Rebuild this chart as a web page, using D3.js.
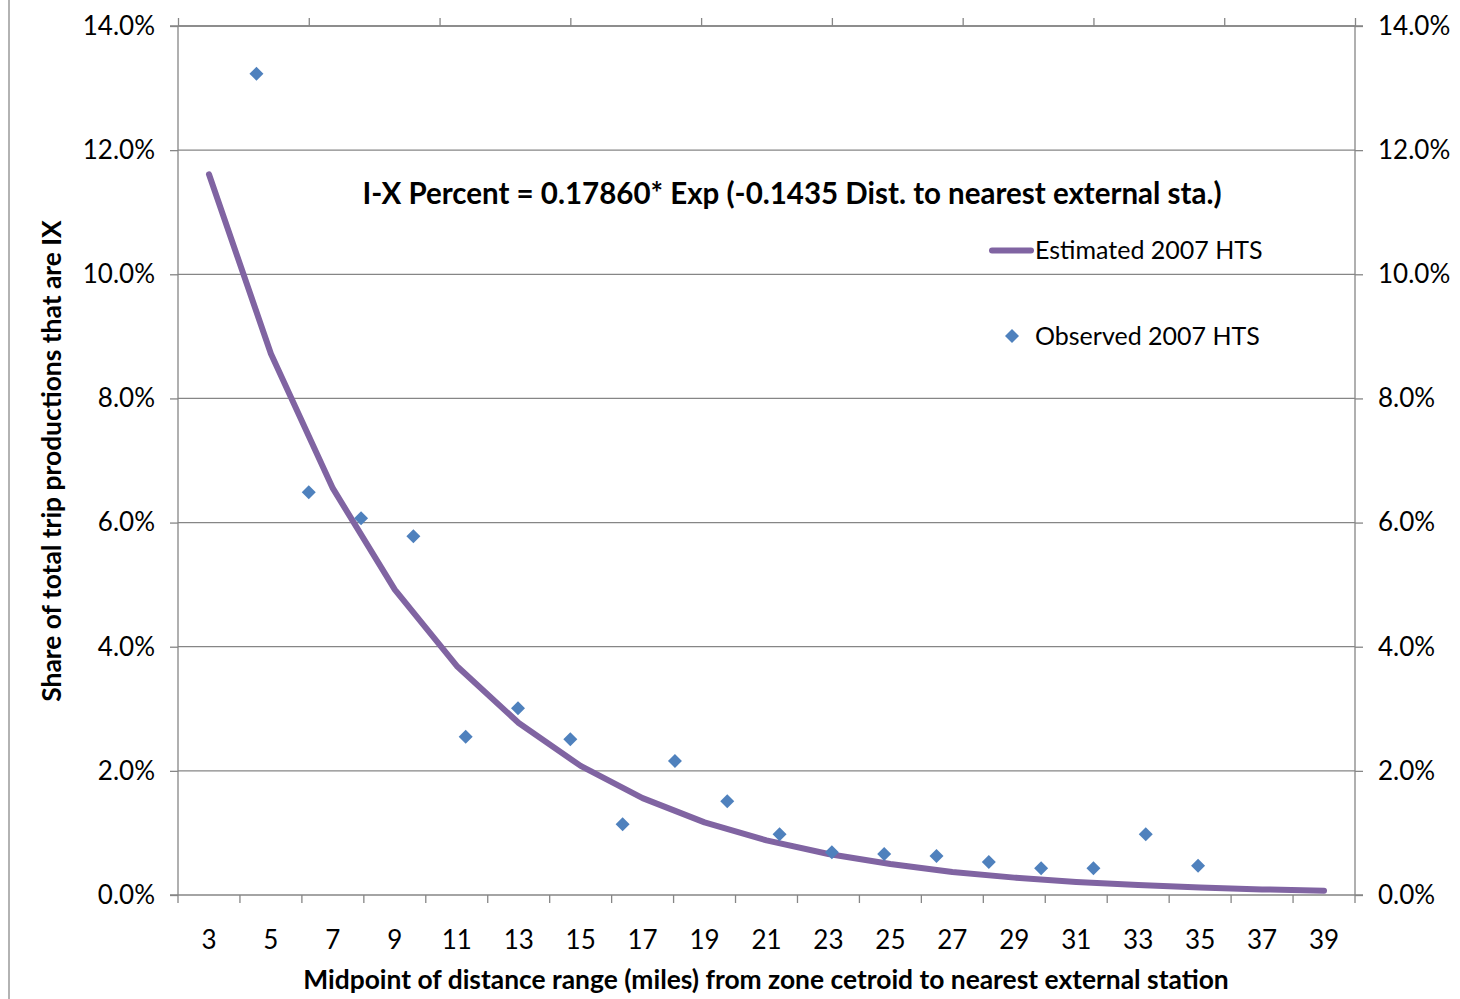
<!DOCTYPE html>
<html>
<head>
<meta charset="utf-8">
<script src="https://cdn.jsdelivr.net/npm/d3@7"></script>
<style>
  html, body { margin: 0; padding: 0; background: #fff; }
  svg { display: block; }
  text { font-family: Lato, "Open Sans", sans-serif; fill: #000; }
</style>
</head>
<body>
<script>
// ---- data ----
const categories = [3, 5, 7, 9, 11, 13, 15, 17, 19, 21, 23, 25, 27, 29, 31, 33, 35, 37, 39];
const estimatedPct = [11.61, 8.72, 6.55, 4.92, 3.69, 2.77, 2.08, 1.56, 1.17, 0.88, 0.66, 0.50, 0.37, 0.28, 0.21, 0.16, 0.12, 0.09, 0.07];
const observedX = [3, 5, 7, 9, 11, 13, 15, 17, 19, 21, 23, 25, 27, 29, 31, 33, 35, 37, 39];
const observedPct = [13.23, 6.49, 6.07, 5.78, 2.55, 3.01, 2.51, 1.14, 2.16, 1.51, 0.98, 0.69, 0.66, 0.63, 0.53, 0.43, 0.43, 0.98, 0.47];
const yTicks = [0, 2, 4, 6, 8, 10, 12, 14];
const secondaryXTicks = [0, 5, 10, 15, 20, 25, 30, 35, 40, 45];
const seriesNames = ["Estimated 2007 HTS", "Observed 2007 HTS"];
const equationText = "I-X Percent = 0.17860* Exp (-0.1435 Dist. to nearest external sta.)";
const xTitle = "Midpoint of distance range (miles) from zone cetroid to nearest external station";
const yTitle = "Share of total trip productions that are IX";

// ---- layout ----
const W = 1460, H = 999;
const L = 178, R = 1355, T = 26, B = 895;
const axisColor = "#868686";
const lineColor = "#8064A2";
const markColor = "#4F81BD";

const svg = d3.select("body").append("svg").attr("width", W).attr("height", H);

// frame line on left edge
svg.append("line").attr("x1", 9).attr("x2", 9).attr("y1", 0).attr("y2", H)
  .attr("stroke", "#9a9a9a").attr("stroke-width", 1.5);

const y = d3.scaleLinear().domain([0, 14]).range([B, T]);
const x = d3.scaleBand().domain(categories).range([L, R]).padding(0);
const x2 = d3.scaleLinear().domain([0, 45]).range([L, R]);
const xc = d => x(d) + x.bandwidth() / 2;

// gridlines
svg.append("g").selectAll("line").data(yTicks.filter(d => d > 0)).join("line")
  .attr("x1", L).attr("x2", R).attr("y1", d => y(d)).attr("y2", d => y(d))
  .attr("stroke", axisColor).attr("stroke-width", 1.3);

const fmt = d => d.toFixed(1) + "%";

// left axis
const gl = svg.append("g").attr("transform", `translate(${L},0)`)
  .call(d3.axisLeft(y).tickValues(yTicks).tickFormat(fmt).tickSize(8).tickPadding(15));
// right axis
const gr = svg.append("g").attr("transform", `translate(${R},0)`)
  .call(d3.axisRight(y).tickValues(yTicks).tickFormat(fmt).tickSize(8).tickPadding(15));
[gl, gr].forEach(g => {
  g.selectAll(".domain").attr("stroke", axisColor).attr("stroke-width", 1.3);
  g.selectAll(".tick line").attr("stroke", axisColor).attr("stroke-width", 1.3);
  g.selectAll(".tick text").attr("font-size", 26).attr("font-family", "Lato").attr("fill", "#000");
});
gl.selectAll(".domain").attr("d", `M0,${B}V${T}`);
gr.selectAll(".domain").attr("d", `M0,${B}V${T}`);

// bottom axis: line + tick marks at category boundaries + centered labels
const gb = svg.append("g").attr("transform", `translate(0,${B})`)
  .call(d3.axisBottom(x).tickSize(0).tickPadding(36));
gb.selectAll(".domain").attr("d", `M${L - 8},0H${R + 8}`).attr("stroke", axisColor).attr("stroke-width", 1.3);
gb.selectAll(".tick text").attr("font-size", 26).attr("font-family", "Lato").attr("fill", "#000");
gb.append("g").selectAll("line").data(categories.map(c => x(c)).concat([R])).join("line")
  .attr("x1", d => d).attr("x2", d => d).attr("y1", 0).attr("y2", 8)
  .attr("stroke", axisColor).attr("stroke-width", 1.3);

// top secondary axis (ticks only)
const gt = svg.append("g").attr("transform", `translate(0,${T})`)
  .call(d3.axisTop(x2).tickValues(secondaryXTicks).tickFormat("").tickSize(8));
gt.selectAll(".domain").attr("d", `M${L - 8},0H${R + 8}`).attr("stroke", axisColor).attr("stroke-width", 1.3);
gt.selectAll(".tick line").attr("stroke", axisColor).attr("stroke-width", 1.3);

// estimated line
const line = d3.line().x((d, i) => xc(categories[i])).y(d => y(d));
svg.append("path").datum(estimatedPct).attr("d", line)
  .attr("fill", "none").attr("stroke", lineColor).attr("stroke-width", 6)
  .attr("stroke-linejoin", "round").attr("stroke-linecap", "round");

// observed diamonds
const diamond = d3.symbol().type(d3.symbolDiamond2).size(125);
svg.append("g").selectAll("path").data(observedPct).join("path")
  .attr("d", diamond)
  .attr("transform", (d, i) => `translate(${x2(observedX[i])},${y(d)})`)
  .attr("fill", markColor);

// equation annotation
svg.append("text").attr("x", 792).attr("y", 204).attr("text-anchor", "middle")
  .attr("font-size", 29.5).attr("font-weight", "bold").text(equationText);

// legend
svg.append("line").attr("x1", 992).attr("x2", 1031).attr("y1", 250.5).attr("y2", 250.5)
  .attr("stroke", lineColor).attr("stroke-width", 6).attr("stroke-linecap", "round");
svg.append("text").attr("x", 1035).attr("y", 259).attr("font-size", 25).text(seriesNames[0]);
svg.append("path").attr("d", diamond).attr("transform", "translate(1012,336)").attr("fill", markColor);
svg.append("text").attr("x", 1035).attr("y", 345).attr("font-size", 25).text(seriesNames[1]);

// axis titles
svg.append("text").attr("x", 766).attr("y", 989).attr("text-anchor", "middle")
  .attr("font-size", 26.4).attr("font-weight", "bold").text(xTitle);
svg.append("text").attr("transform", "translate(61,461) rotate(-90)").attr("text-anchor", "middle")
  .attr("font-size", 26.4).attr("font-weight", "bold").text(yTitle);
</script>
</body>
</html>
